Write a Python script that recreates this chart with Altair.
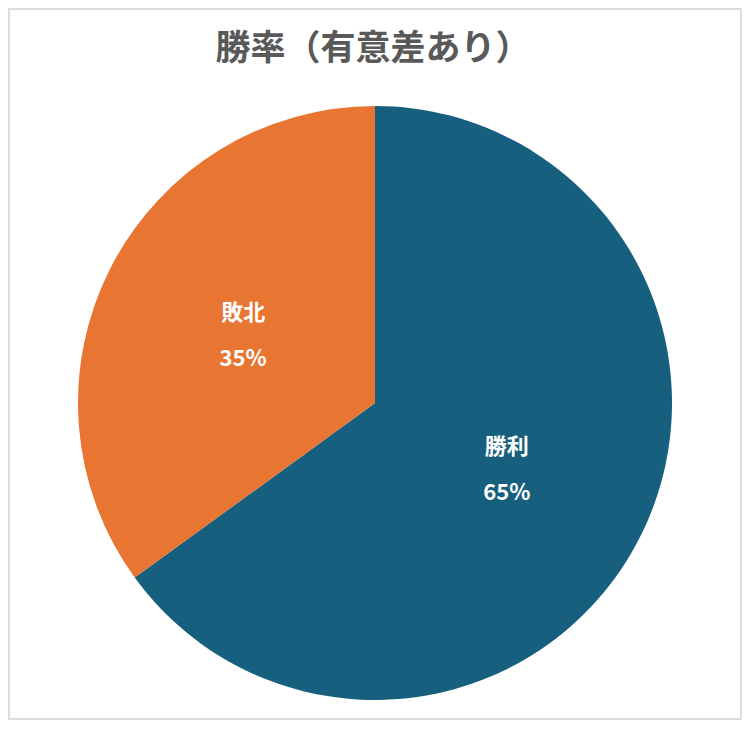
import altair as alt
import pandas as pd

categories = ["勝利", "敗北"]
shares = [65, 35]
labels = ["65%", "35%"]
colors = ["#175F7E", "#E87532"]

df = pd.DataFrame({"category": categories, "share": shares, "label": labels})

font = "Noto Sans CJK JP"
W, H = 734, 712
CX, CY = 367, 395

base = alt.Chart(df).encode(
    theta=alt.Theta("share:Q", stack=True),
    order=alt.Order("share:Q", sort="descending"),
)

frame = alt.Chart(pd.DataFrame({"k": [0]})).mark_rect(
    fill="white", stroke="#DDDDDD", strokeWidth=2
).encode(
    x=alt.value(1), x2=alt.value(W - 1), y=alt.value(1), y2=alt.value(H - 1)
)

pie = base.mark_arc(outerRadius=297).encode(
    color=alt.Color("category:N", scale=alt.Scale(domain=categories, range=colors), legend=None),
    x=alt.value(CX),
    y=alt.value(CY),
)

name_text = base.mark_text(radius=148, dy=-23, font=font, fontSize=22, fontWeight="bold", color="white").encode(
    text="category:N",
    x=alt.value(CX),
    y=alt.value(CY),
)
pct_text = base.mark_text(radius=148, dy=23, font=font, fontSize=22, fontWeight="bold", color="white").encode(
    text="label:N",
    x=alt.value(CX),
    y=alt.value(CY),
)

chart = alt.layer(frame, pie, name_text, pct_text).properties(
    width=W,
    height=H,
    padding=0,
    autosize=alt.AutoSizeParams(type="none"),
    title=alt.Title(
        "勝率（有意差あり）",
        font=font,
        fontSize=35,
        fontWeight="bold",
        color="#595959",
        anchor="middle",
        orient="top",
        baseline="middle",
        offset=0,
        dy=76,
        dx=-2,
    ),
).configure_view(stroke=None).configure(background="white")

chart.save("out.html", embed_options={"renderer": "svg", "actions": False})
